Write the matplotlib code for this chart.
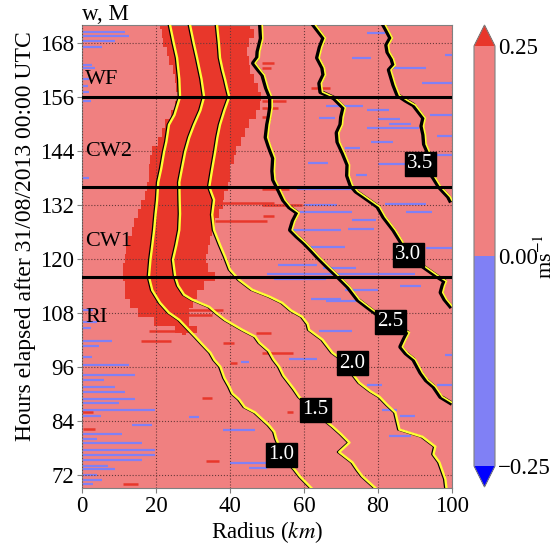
import matplotlib
matplotlib.use('Agg')
import matplotlib.pyplot as plt
import matplotlib.colors as mcolors
from matplotlib import patheffects as pe
import numpy as np

plt.rcParams['font.family'] = 'serif'
plt.rcParams['font.serif'] = ['Liberation Serif', 'DejaVu Serif']
plt.rcParams['mathtext.fontset'] = 'stix'

# --- strong updraft ring (w > 0.25 m/s): inner / outer radius (km) per hour
redT = [172, 170, 168, 166, 164, 162, 160, 158, 156, 154, 152, 150, 148, 146, 144, 142,
        140, 138, 136, 134, 132, 130, 128, 126, 124, 122, 120, 118, 116, 114, 112, 110,
        108, 106, 104, 103]
redR0 = [21.0, 21.5, 22.0, 23.0, 23.5, 24.5, 25.0, 25.5, 26.5, 25.0, 24.0, 22.5, 21.5, 20.5,
         19.0, 18.5, 18.0, 18.0, 17.5, 17.0, 16.0, 15.0, 14.0, 13.5, 12.5, 12.0, 11.5, 11.0,
         11.0, 11.5, 11.5, 13.0, 15.0, 19.5, 25.0, 27.0]
redR1 = [45.5, 46.5, 45.0, 44.5, 45.0, 45.5, 46.5, 47.5, 48.5, 48.0, 47.0, 45.0, 44.0, 43.0,
         41.5, 41.0, 40.0, 40.0, 39.5, 38.5, 38.0, 37.0, 36.0, 35.0, 34.5, 34.0, 33.5, 34.0,
         36.0, 33.0, 31.0, 30.0, 29.0, 29.0, 31.0, 28.0]

# isolated w > 0.25 streaks: hour, start radius, end radius
redStreakT = [163.5, 162.5, 155.0, 153.5, 151.5, 158.0, 156.0, 135.5, 132.5, 132.0, 129.5,
              128.5, 108.5, 107.5, 104.0, 103.5, 101.7, 101.3, 99.0, 96.7, 89.0, 86.0, 82.2, 75.0,
              69.8, 85.8]
redStreakR0 = [48.7, 48.7, 48.7, 48.7, 48.7, 62.0, 70.0, 48.7, 34.0, 48.7, 49.0,
               36.0, 28.0, 27.0, 18.0, 47.0, 16.0, 38.0, 48.7, 40.0, 32.5, 0.0, 0.3, 33.5,
               11.0, 55.5]
redStreakR1 = [52.0, 51.0, 55.0, 53.0, 51.0, 67.0, 79.0, 56.0, 52.0, 59.5, 52.0,
               50.0, 38.0, 35.0, 25.0, 51.0, 24.0, 41.0, 57.0, 42.0, 35.0, 3.0, 3.5, 37.0,
               15.0, 57.0]

# w < 0 streaks: hour, start radius, end radius
blueT = [170.5, 169.5, 168.5, 167.0, 163.0, 162.5, 160.0, 158.5, 157.0, 155.0, 138.0,
         170.3, 165.3, 164.7, 162.5, 159.0, 154.0, 153.0, 152.0, 151.3, 151.0, 149.1, 150.0,
         147.4, 146.0, 144.6, 143.0, 141.3, 141.0, 138.7,
         135.5, 132.0, 130.4, 128.6, 130.5, 132.2, 126.3, 126.6, 122.7, 122.5, 118.6, 118.0,
         116.6, 115.4, 113.0, 114.0, 111.0, 110.5,
         103.9, 97.6, 92.0, 86.3, 85.0, 80.5, 98.6, 92.0,
         108.5, 106.0, 104.5, 101.8, 100.7, 98.1, 96.3, 94.1, 93.0, 91.5, 90.4, 88.9, 87.8,
         86.3, 85.0, 83.0, 81.1, 80.0, 78.9, 77.4, 76.3, 75.2, 74.0, 73.3, 72.0, 70.7, 69.8,
         81.9, 74.5, 73.5, 84.8, 97.0]
blueR0 = [0.0, 0.0, 0.0, 0.0, 0.0, 0.0, 0.0, 0.0, 0.0, 0.0, 0.0,
          77.0, 98.0, 73.0, 84.0, 92.0, 66.0, 77.0, 94.0, 64.0, 80.0, 77.0, 83.0,
          96.0, 78.0, 71.0, 96.0, 61.0, 80.0, 74.0,
          58.0, 60.0, 59.0, 73.0, 87.5, 82.0, 57.0, 72.0, 62.0, 93.0, 53.0, 65.0,
          50.0, 52.0, 71.0, 86.0, 62.0, 66.0,
          64.0, 56.0, 77.0, 81.0, 86.0, 83.0, 98.0, 96.0,
          0.0, 0.0, 0.0, 0.0, 0.0, 0.0, 0.0, 0.0, 0.0, 0.0, 0.0, 0.0, 0.0,
          0.0, 0.0, 13.5, 0.0, 0.0, 0.0, 0.0, 0.0, 0.0, 0.0, 0.0, 0.0, 0.0, 0.0,
          38.0, 40.0, 45.0, 29.0, 43.0]
blueR1 = [11.7, 12.6, 9.0, 5.5, 2.7, 3.6, 2.0, 1.5, 2.0, 2.3, 1.8,
          82.0, 100.0, 78.0, 93.0, 100.0, 76.0, 83.0, 100.0, 68.5, 86.0, 91.0, 89.0,
          100.0, 84.0, 75.0, 100.0, 66.5, 90.0, 77.0,
          73.0, 69.0, 73.0, 79.5, 94.5, 93.0, 70.0, 79.0, 71.0, 100.0, 63.5, 74.0,
          90.0, 66.0, 80.0, 91.5, 70.0, 74.0,
          73.0, 63.5, 81.0, 85.0, 90.0, 89.0, 100.0, 100.0,
          3.0, 4.0, 2.5, 8.0, 4.5, 2.7, 12.6, 14.4, 6.0, 9.0, 11.7, 14.4, 9.9,
          19.8, 5.0, 19.0, 10.8, 4.0, 16.2, 19.8, 19.8, 16.2, 7.0, 9.0, 4.0, 5.4, 3.0,
          46.8, 50.6, 50.0, 31.5, 45.0]

# absolute angular momentum contours: hours and radius (km)
m10T = [172, 168, 164.7, 160, 156, 152, 149.8, 146, 143.8, 140, 137, 133, 130, 126.4,
        123, 119.8, 116, 113, 110.2, 108, 106.4, 104.5, 102.7, 101, 99.1, 97.5, 96, 93.5,
        91.6, 90, 88.7, 87, 85.8, 84.5, 83, 81.5, 80, 78, 76, 74, 73.1, 71.5, 69]
m10R = [23.8, 24.8, 25.7, 26.3, 26.5, 25.0, 23.5, 22.8, 22.2, 21.4, 20.6, 20.3, 19.9, 19.5,
        19.0, 18.5, 18.1, 19.0, 21.1, 23.5, 26.3, 28.5, 30.6, 32.5, 34.7, 35.8, 37.4, 38.5,
        39.8, 40.7, 42.5, 44.0, 46.8, 48.5, 50.5, 52.0, 52.5, 53.5, 54.5, 56.5, 57.5, 59.0, 62.0]

m15T = [172, 168, 164.7, 160, 156, 153, 149.8, 147, 143.8, 140, 137, 133, 130, 126.4, 123,
        119.8, 116, 114, 112, 110.9, 109.3, 107.8, 106.4, 104.2, 102.7, 101.3, 99.5, 97.6,
        96, 94, 92.4, 91, 89.3, 87.5, 84.5, 82.7, 81, 79.1, 77, 74.7, 73, 71.6, 69]
m15R = [29.2, 30.2, 31.1, 32.3, 33.0, 32.0, 30.3, 29.0, 27.9, 27.0, 26.3, 26.4, 26.5, 26.3,
        25.5, 24.6, 25.2, 26.0, 27.6, 29.8, 34.4, 36.5, 38.7, 43.3, 46.8, 48.0, 50.5, 51.8,
        53.3, 54.5, 56.0, 57.3, 58.7, 61.0, 65.0, 67.7, 70.0, 72.3, 69.5, 73.1, 74.5, 75.8, 79.3]

m20T = [172, 168, 164.7, 162, 159.8, 158, 156, 153, 149.8, 147, 143.8, 140, 137, 136, 133.1,
        129.8, 126.4, 123.1, 120.4, 117.6, 115.3, 113.1, 111.6, 110.2, 108.5, 107.1, 105.5,
        104.2, 102, 99.1, 96.5, 94, 92.4, 90.5, 89.3, 87.5, 85.8, 82, 80.4, 78.2, 76.5,
        74.7, 71, 69]
m20R = [36.5, 37.0, 37.3, 38.0, 38.7, 39.2, 39.8, 38.5, 37.3, 36.6, 36.0, 35.2, 34.6, 34.4,
        35.7, 35.2, 35.7, 37.3, 38.7, 40.0, 42.5, 46.0, 50.6, 54.1, 56.5, 59.5, 61.0, 61.4,
        65.0, 67.7, 72.0, 73.5, 75.0, 78.0, 80.4, 82.5, 84.7, 85.8, 92.0, 95.5, 95.0, 96.6,
        98.2, 98.5]

m25T = [172, 169, 166, 164.7, 163.5, 162, 160.9, 158, 155.8, 153.6, 151.5, 149.8, 147, 145,
        142.4, 139.5, 137.6, 135.5, 133.1, 131.5, 130.2, 128.3, 126.4, 125, 123.6, 122,
        120.4, 118.2, 116, 113.8, 110.9, 108.7, 106, 103.6, 102, 100.4, 99, 97.6, 94.7, 93,
        91.6, 89.3, 88]
m25R = [48.7, 48.9, 48.0, 47.9, 46.8, 48.2, 49.3, 50.3, 51.4, 51.4, 51.0, 50.6, 50.2, 51.0,
        52.2, 52.0, 52.2, 53.5, 54.9, 56.5, 58.7, 57.5, 56.8, 58.5, 60.4, 62.3, 64.1, 66.8,
        69.6, 72.3, 75.0, 78.5, 83.0, 88.5, 87.5, 86.6, 88.0, 90.1, 92.0, 93.5, 95.5, 97.4,
        100.0]

m30T = [172, 169.1, 167, 164.7, 162.5, 160.9, 159, 157.1, 155.8, 153.6, 151.5, 149.8, 148,
        146, 143.5, 140.9, 138.5, 136.4, 135, 133.8, 131.6, 129.3, 126.4, 124, 121, 118.2,
        116, 115, 114, 112.5, 111, 109.5]
m30R = [63.1, 65.8, 64.8, 64.1, 65.5, 65.8, 64.7, 65.0, 68.5, 71.2, 70.6, 70.4, 69.4, 69.6,
        71.0, 72.3, 72.2, 73.1, 74.5, 76.6, 80.4, 82.0, 84.7, 86.5, 88.5, 92.8, 96.6, 98.5,
        98.0, 97.5, 98.5, 100.0]

m35T = [172, 170.5, 169.1, 167.5, 166, 164.5, 163.1, 162, 160.9, 158.7, 156.4, 155.2, 154.2,
        151.3, 149.5, 147.6, 145.5, 143.8, 141, 138, 136, 133.8, 133]
m35R = [82.0, 83.0, 83.9, 82.8, 83.1, 84.2, 84.7, 83.5, 83.9, 84.7, 85.8, 88.0, 90.1, 92.8,
        92.3, 92.8, 93.0, 93.9, 93.0, 95.5, 97.0, 99.5, 100.0]

contourNames = ['1.0', '1.5', '2.0', '2.5', '3.0', '3.5']
contourT = [m10T, m15T, m20T, m25T, m30T, m35T]
contourR = [m10R, m15R, m20R, m25R, m30R, m35R]
# where each contour label sits (radius, hour)
labelR = [53.9, 63.1, 73.1, 83.4, 88.2, 91.5]
labelT = [76.4, 86.4, 96.7, 106.0, 120.9, 141.1]

phaseHours = [116, 136, 156]
phaseNames = ['WF', 'CW2', 'CW1', 'RI']
phaseTextT = [159.8, 143.8, 123.8, 106.9]

colors = dict()
colors['under'] = '#0000ff'
colors['neg'] = '#8080f5'
colors['pos'] = '#f08080'
colors['over'] = '#e8372b'
colors['yellow'] = '#ffff33'

fig = plt.figure(figsize=(5.59, 5.45), dpi=100)
ax = fig.add_axes([82/559, 57/545, 370/559, 463/545])
ax.set_facecolor(colors['pos'])

ax.fill_betweenx(redT, redR0, redR1, step='mid', color=colors['over'], lw=0, zorder=1)
ax.hlines(redStreakT, redStreakR0, redStreakR1, colors=colors['over'], lw=1.8, zorder=1.2)
ax.hlines(blueT, blueR0, blueR1, colors=colors['neg'], lw=1.6, zorder=1.3)

for i, name in enumerate(contourNames):
    if i < 3:
        effects = [pe.SimpleLineShadow(offset=(-1.0, 0), shadow_color='black', alpha=1, linewidth=1.5),
                   pe.Normal()]
        ax.plot(contourR[i], contourT[i], color=colors['yellow'], lw=1.7, zorder=3, path_effects=effects)
    else:
        effects = [pe.SimpleLineShadow(offset=(-1.4, 0), shadow_color='black', alpha=1, linewidth=3.2),
                   pe.Normal()]
        ax.plot(contourR[i], contourT[i], color=colors['yellow'], lw=1.2, zorder=3, path_effects=effects)
    ax.text(labelR[i], labelT[i], name, color='white', fontsize=15, ha='center', va='center',
            bbox=dict(facecolor='black', edgecolor='black', boxstyle='square,pad=0.12'), zorder=5)

for h in phaseHours:
    ax.axhline(h, color='black', lw=2.2, zorder=4)
for name, t in zip(phaseNames, phaseTextT):
    ax.text(0.8, t, name, fontsize=16, ha='left', va='center', zorder=5)

ax.set_xlim(0, 100)
ax.set_ylim(69, 172)
ax.set_xticks([0, 20, 40, 60, 80, 100])
ax.set_yticks([72, 84, 96, 108, 120, 132, 144, 156, 168])
ax.tick_params(labelsize=16.5, color='gray', pad=2)
ax.grid(True, linestyle=':', color='#6a3a3a', lw=0.8)
ax.set_axisbelow(False)
for s in ax.spines.values():
    s.set_color('gray')
ax.set_xlabel('Radius ($km$)', fontsize=16.5, labelpad=2)
ax.set_ylabel('Hours elapsed after 31/08/2013 00:00 UTC', fontsize=17)
ax.yaxis.set_label_coords(-0.125, 0.545)
ax.set_title('w, M', loc='left', fontsize=16.5, pad=2)

cmap = mcolors.ListedColormap([colors['neg'], colors['pos']])
cmap.set_under(colors['under'])
cmap.set_over(colors['over'])
norm = mcolors.BoundaryNorm([-0.25, 0.0, 0.25], cmap.N)
cax = fig.add_axes([474/559, 58/545, 21/559, 462/545])
cb = fig.colorbar(plt.cm.ScalarMappable(norm=norm, cmap=cmap), cax=cax, extend='both',
                  ticks=[-0.25, 0.0, 0.25])
cb.ax.set_yticklabels(['\u22120.25', '0.00', '0.25'])
cb.ax.tick_params(labelsize=16.5, length=0, pad=2)
cb.outline.set_edgecolor('gray')
cb.set_label('ms$^{-1}$', fontsize=16)
cb.ax.yaxis.set_label_coords(2.9, 0.5)

fig.savefig('out.png', dpi=100)
